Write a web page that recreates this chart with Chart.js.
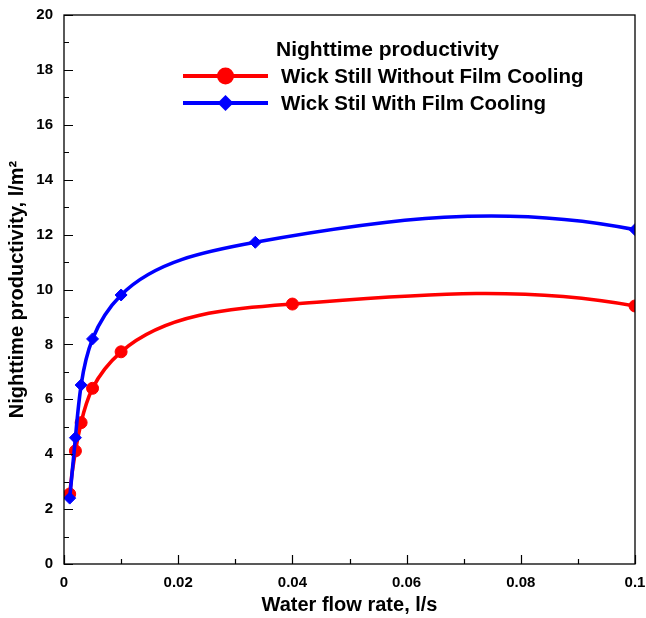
<!DOCTYPE html>
<html>
<head>
<meta charset="utf-8">
<title>Nighttime productivity</title>
<script src="https://cdn.jsdelivr.net/npm/chart.js@4.4.1/dist/chart.umd.min.js"></script>
<style>
  html, body { margin: 0; padding: 0; background: #ffffff; }
  canvas { display: block; }
</style>
</head>
<body>
<canvas id="chart" width="646" height="618"></canvas>
<script>
// Water flow rate (l/s) and nighttime productivity (l/m²) for each still
const flowWithout = [0.001, 0.002, 0.003, 0.005, 0.01, 0.04, 0.1];
const prodWithout = [2.55, 4.12, 5.15, 6.40, 7.73, 9.47, 9.40];
const flowWith = [0.001, 0.002, 0.003, 0.005, 0.01, 0.0335, 0.1];
const prodWith = [2.40, 4.60, 6.52, 8.20, 9.80, 11.72, 12.18];

const seriesNames = ['Wick Still Without Film Cooling', 'Wick Stil With Film Cooling'];
const legendTitle = 'Nighttime productivity';

const xTickLabels = ['0', '0.02', '0.04', '0.06', '0.08', '0.1'];
const yTickLabels = ['0', '2', '4', '6', '8', '10', '12', '14', '16', '18', '20'];

const FONT = "'Liberation Sans', Arial, Helvetica, sans-serif";
const RED = '#ff0000';
const BLUE = '#0000ff';

function toPoints(xs, ys) {
  return xs.map((x, i) => ({ x: x, y: ys[i] }));
}

function labelFor(list, value) {
  const hit = list.find(t => Math.abs(Number(t) - value) < 1e-9);
  return hit === undefined ? '' : hit;
}

// Solve a small dense linear system (Gaussian elimination, partial pivoting)
function solve(A, r) {
  const n = r.length;
  for (let k = 0; k < n; k++) {
    let p = k;
    for (let i = k + 1; i < n; i++) if (Math.abs(A[i][k]) > Math.abs(A[p][k])) p = i;
    [A[k], A[p]] = [A[p], A[k]];
    [r[k], r[p]] = [r[p], r[k]];
    for (let i = k + 1; i < n; i++) {
      const f = A[i][k] / A[k][k];
      for (let j = k; j < n; j++) A[i][j] -= f * A[k][j];
      r[i] -= f * r[k];
    }
  }
  const s = new Array(n).fill(0);
  for (let i = n - 1; i >= 0; i--) {
    let acc = r[i];
    for (let j = i + 1; j < n; j++) acc -= A[i][j] * s[j];
    s[i] = acc / A[i][i];
  }
  return s;
}

// Derivatives of a C2 cubic spline v(t) on knots with spacing h; the end
// derivatives are taken from the parabola through the three outer knots.
function splineSlopes(v, h) {
  const n = v.length;
  const s = [];
  for (let i = 0; i < n - 1; i++) s.push((v[i + 1] - v[i]) / h[i]);
  const A = [];
  const r = new Array(n).fill(0);
  for (let i = 0; i < n; i++) A.push(new Array(n).fill(0));
  A[0][0] = 1;
  r[0] = s[0] + (s[0] - s[1]) * h[0] / (h[0] + h[1]);
  A[n - 1][n - 1] = 1;
  r[n - 1] = s[n - 2] + (s[n - 2] - s[n - 3]) * h[n - 2] / (h[n - 3] + h[n - 2]);
  for (let i = 1; i < n - 1; i++) {
    A[i][i - 1] = h[i];
    A[i][i] = 2 * (h[i - 1] + h[i]);
    A[i][i + 1] = h[i - 1];
    r[i] = 3 * (h[i] * s[i - 1] + h[i - 1] * s[i]);
  }
  return solve(A, r);
}

// Smooth each line with a parametric cubic spline (chord-length knots in
// screen space) and write it into the Bezier control points of the line's
// point elements before Chart.js strokes the dataset.
const parametricSpline = {
  id: 'parametricSpline',
  beforeDatasetDraw(chart, args) {
    const meta = args.meta;
    const pts = meta.data;
    const n = pts.length;
    if (n < 3) return;
    const x = pts.map(p => p.x);
    const y = pts.map(p => p.y);
    const h = [];
    for (let i = 0; i < n - 1; i++) h.push(Math.hypot(x[i + 1] - x[i], y[i + 1] - y[i]) || 1e-6);
    const dx = splineSlopes(x, h);
    const dy = splineSlopes(y, h);
    for (let i = 0; i < n; i++) {
      const p = pts[i];
      const hp = i > 0 ? h[i - 1] : 0;
      const hn = i < n - 1 ? h[i] : 0;
      p.cp1x = x[i] - dx[i] * hp / 3;
      p.cp1y = y[i] - dy[i] * hp / 3;
      p.cp2x = x[i] + dx[i] * hn / 3;
      p.cp2y = y[i] + dy[i] * hn / 3;
    }
    meta.dataset._pointsUpdated = true;
  }
};

// Plot frame, inward major/minor ticks and the in-plot legend
const frameAndLegend = {
  id: 'frameAndLegend',
  afterDraw(chart) {
    const ctx = chart.ctx;
    const area = chart.chartArea;
    const xs = chart.scales.x;
    const ys = chart.scales.y;
    ctx.save();
    ctx.strokeStyle = '#000000';
    ctx.lineWidth = 1.3;
    ctx.strokeRect(area.left, area.top, area.right - area.left, area.bottom - area.top);

    ctx.lineWidth = 1.2;
    ctx.beginPath();
    for (let v = 0; v <= 20.0001; v += 1) {
      const py = Math.round(ys.getPixelForValue(v)) + 0.5;
      const len = (Math.round(v) % 2 === 0) ? 9 : 5;
      ctx.moveTo(area.left, py);
      ctx.lineTo(area.left + len, py);
    }
    for (let k = 0; k <= 10; k++) {
      const px = Math.round(xs.getPixelForValue(k * 0.01)) + 0.5;
      const len = (k % 2 === 0) ? 9 : 5;
      ctx.moveTo(px, area.bottom);
      ctx.lineTo(px, area.bottom - len);
    }
    ctx.stroke();

    // legend
    ctx.fillStyle = '#000000';
    ctx.textAlign = 'left';
    ctx.textBaseline = 'alphabetic';
    ctx.font = 'bold 21px ' + FONT;
    ctx.fillText(legendTitle, 276, 56);

    const rows = [
      { y: 76, color: RED, style: 'circle' },
      { y: 103, color: BLUE, style: 'diamond' }
    ];
    ctx.font = 'bold 20.5px ' + FONT;
    rows.forEach((row, i) => {
      ctx.strokeStyle = row.color;
      ctx.fillStyle = row.color;
      ctx.lineWidth = 4;
      ctx.beginPath();
      ctx.moveTo(183, row.y);
      ctx.lineTo(268, row.y);
      ctx.stroke();
      ctx.beginPath();
      if (row.style === 'circle') {
        ctx.arc(225.5, row.y, 8.5, 0, Math.PI * 2);
      } else {
        const r = 8;
        ctx.moveTo(225.5 - r, row.y);
        ctx.lineTo(225.5, row.y - r);
        ctx.lineTo(225.5 + r, row.y);
        ctx.lineTo(225.5, row.y + r);
        ctx.closePath();
      }
      ctx.fill();
      ctx.fillStyle = '#000000';
      ctx.fillText(seriesNames[i], 281, row.y + 7);
    });
    ctx.restore();
  }
};

function noPadding(scale) {
  scale.paddingTop = 0;
  scale.paddingBottom = 0;
  scale.paddingLeft = 0;
  scale.paddingRight = 0;
}

new Chart(document.getElementById('chart'), {
  type: 'scatter',
  data: {
    datasets: [
      {
        label: seriesNames[1],
        data: toPoints(flowWith, prodWith),
        showLine: true,
        tension: 0.4,
        borderColor: BLUE,
        backgroundColor: BLUE,
        borderWidth: 3.6,
        pointStyle: 'rectRot',
        pointRadius: 6,
        pointBorderWidth: 1,
        pointBorderColor: BLUE,
        pointBackgroundColor: BLUE,
        order: 0
      },
      {
        label: seriesNames[0],
        data: toPoints(flowWithout, prodWithout),
        showLine: true,
        tension: 0.4,
        borderColor: RED,
        backgroundColor: RED,
        borderWidth: 3.6,
        pointStyle: 'circle',
        pointRadius: 6,
        pointBorderWidth: 1,
        pointBorderColor: RED,
        pointBackgroundColor: RED,
        order: 1
      }
    ]
  },
  options: {
    responsive: false,
    animation: false,
    devicePixelRatio: 1,
    layout: { padding: { top: 15, right: 11, left: 0, bottom: 0 } },
    plugins: {
      legend: { display: false },
      tooltip: { enabled: false }
    },
    scales: {
      x: {
        type: 'linear',
        min: 0,
        max: 0.1,
        afterFit(scale) { scale.height = 54; noPadding(scale); },
        grid: { display: false, drawTicks: false },
        border: { display: false },
        ticks: {
          stepSize: 0.02,
          padding: 10,
          color: '#000000',
          maxRotation: 0,
          font: { family: FONT, size: 15, weight: 'bold' },
          callback: (v) => labelFor(xTickLabels, v)
        },
        title: {
          display: true,
          text: 'Water flow rate, l/s',
          color: '#000000',
          font: { family: FONT, size: 20, weight: 'bold' },
          padding: { top: 0, bottom: 1 }
        }
      },
      y: {
        type: 'linear',
        min: 0,
        max: 20,
        afterFit(scale) { scale.width = 64; noPadding(scale); },
        grid: { display: false, drawTicks: false },
        border: { display: false },
        ticks: {
          stepSize: 2,
          padding: 11,
          color: '#000000',
          font: { family: FONT, size: 15, weight: 'bold' },
          callback: (v) => labelFor(yTickLabels, v)
        },
        title: {
          display: true,
          text: 'Nighttime productivity, l/m²',
          color: '#000000',
          font: { family: FONT, size: 20, weight: 'bold' },
          padding: { top: 5, bottom: 0 }
        }
      }
    }
  },
  plugins: [parametricSpline, frameAndLegend]
});
</script>
</body>
</html>
